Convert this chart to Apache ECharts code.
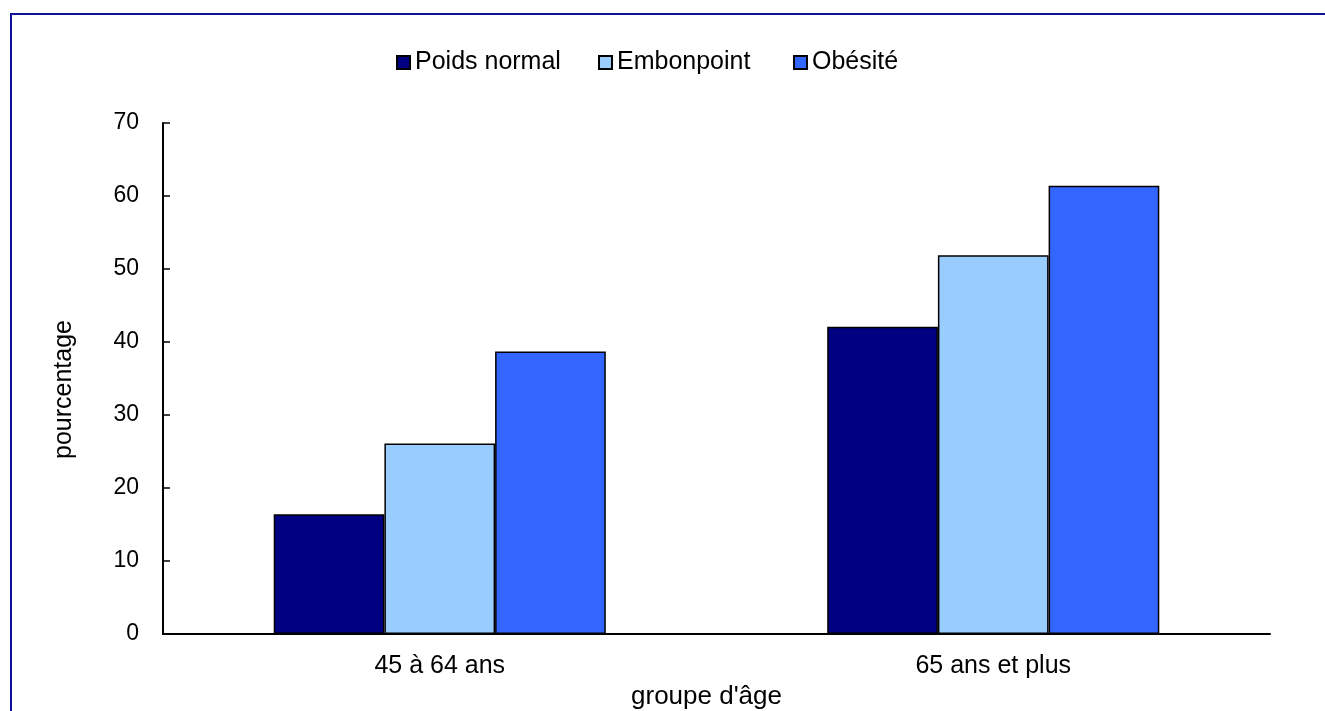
<!DOCTYPE html>
<html>
<head>
<meta charset="utf-8">
<style>
  html, body { margin: 0; padding: 0; background: #fff; }
  #chart { width: 1325px; height: 711px; }
</style>
<script src="https://cdn.jsdelivr.net/npm/echarts@6/dist/echarts.min.js"></script>
</head>
<body>
<div id="chart"></div>
<script>
// Age groups on the category axis
const categories = ['45 à 64 ans', '65 ans et plus'];
// Percentages by weight class
const poidsNormal = [16.4, 42.1];
const embonpoint = [26.1, 51.9];
const obesite = [38.7, 61.4];
const seriesNames = ['Poids normal', 'Embonpoint', 'Obésité'];
const seriesColors = ['#000080', '#99CCFF', '#3366FF'];

const font = 'Liberation Sans, Arial, sans-serif';
const chart = echarts.init(document.getElementById('chart'));

function legendAt(name, left) {
  return {
    data: [name],
    left: left,
    top: 50,
    padding: 0,
    itemWidth: 13,
    itemHeight: 13,
    itemGap: 0,
    icon: 'rect',
    selectedMode: false,
    textStyle: { fontFamily: font, fontSize: 25, color: '#000' }
  };
}

function barSeries(name, values, color) {
  return {
    name: name,
    type: 'bar',
    data: values,
    barGap: '0%',
    barCategoryGap: '40%',
    itemStyle: { color: color, borderColor: '#000', borderWidth: 1.5 },
    emphasis: { disabled: true }
  };
}

chart.setOption({
  animation: false,
  backgroundColor: '#fff',
  graphic: [{
    type: 'rect',
    shape: { x: 11, y: 14, width: 1400, height: 800 },
    style: { fill: 'none', stroke: '#10109a', lineWidth: 2 },
    silent: true
  }],
  legend: [
    legendAt(seriesNames[0], 396),
    legendAt(seriesNames[1], 598),
    legendAt(seriesNames[2], 793)
  ],
  grid: { left: 163, right: 55, top: 123, bottom: 77, containLabel: false, outerBoundsMode: 'none' },
  xAxis: {
    type: 'category',
    data: categories,
    name: "groupe d'âge",
    nameLocation: 'middle',
    nameGap: 42,
    nameTextStyle: { fontFamily: font, fontSize: 26, color: '#000', padding: [0, 20, 0, 0] },
    axisLine: { lineStyle: { color: '#000', width: 2 } },
    axisTick: { show: false },
    axisLabel: { fontFamily: font, fontSize: 25, color: '#000', margin: 20 },
    splitLine: { show: false }
  },
  yAxis: {
    type: 'value',
    min: 0,
    max: 70,
    interval: 10,
    name: 'pourcentage',
    nameLocation: 'middle',
    nameGap: 86,
    nameTextStyle: { fontFamily: font, fontSize: 25, color: '#000', padding: [0, 22, 0, 0] },
    axisLine: { show: true, lineStyle: { color: '#000', width: 2 } },
    axisTick: { show: true, inside: true, length: 7, lineStyle: { color: '#000', width: 1.5 } },
    axisLabel: { fontFamily: font, fontSize: 23, color: '#000', margin: 24 },
    splitLine: { show: false }
  },
  series: [
    barSeries(seriesNames[0], poidsNormal, seriesColors[0]),
    barSeries(seriesNames[1], embonpoint, seriesColors[1]),
    barSeries(seriesNames[2], obesite, seriesColors[2])
  ]
});
</script>
</body>
</html>
